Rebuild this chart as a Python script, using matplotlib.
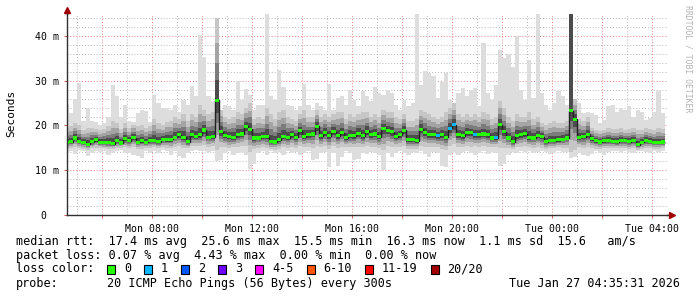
import numpy as np
import pandas as pd
import matplotlib
matplotlib.use('Agg')
import matplotlib.pyplot as plt
import matplotlib.dates as mdates
from matplotlib.patches import Rectangle
from matplotlib.ticker import MultipleLocator, FuncFormatter

# smokeping graph, last 24h, one value per 10 minute bin
START = '2026-01-26 04:30'
VIEW_FROM = '2026-01-26 04:35:31'
VIEW_TO = '2026-01-27 04:35:31'

median = [
    16.2, 16.4, 17.2, 16.5, 16.2, 15.8,
    16.4, 16.8, 16.2, 16.2, 16.2, 15.9,
    16.6, 16.1, 17.0, 16.6, 17.3, 16.2,
    16.6, 16.2, 16.6, 16.6, 16.4, 16.9,
    16.8, 16.9, 17.4, 17.9, 17.4, 16.4,
    17.9, 17.6, 17.9, 19.0, 17.4, 17.5,
    25.6, 18.6, 17.7, 17.5, 17.4, 17.9,
    18.1, 19.8, 19.2, 17.2, 17.2, 17.6,
    17.5, 16.4, 16.3, 16.8, 17.6, 17.3,
    17.9, 17.4, 18.8, 17.5, 17.9, 18.1,
    19.8, 17.7, 18.4, 17.7, 18.6, 17.7,
    18.4, 17.3, 17.7, 17.7, 18.3, 17.7,
    18.7, 17.9, 18.1, 17.5, 19.4, 18.9,
    18.6, 17.5, 17.9, 18.9, 16.8, 16.9,
    16.6, 19.2, 18.4, 17.9, 17.9, 17.7,
    17.9, 17.4, 19.4, 20.2, 17.9, 17.7,
    18.4, 18.4, 17.9, 17.9, 18.1, 17.9,
    17.2, 17.3, 20.2, 18.6, 17.2, 16.4,
    17.7, 17.9, 18.2, 17.4, 17.2, 17.7,
    17.5, 16.4, 16.7, 16.6, 16.8, 16.9,
    17.2, 23.3, 21.4, 17.4, 17.5, 18.0,
    17.0, 16.6, 16.3, 16.6, 16.6, 16.4,
    16.4, 16.6, 16.6, 16.4, 16.6, 15.7,
    16.2, 16.6, 16.4, 16.2, 16.2, 16.3,
]

rtt_min = [
    13.8, 14.2, 13.6, 14.5, 14.2, 13.1,
    13.8, 14.2, 14.0, 14.2, 13.4, 13.8,
    14.2, 14.5, 13.8, 13.8, 13.4, 13.1,
    12.8, 14.2, 13.8, 14.2, 13.8, 14.5,
    14.2, 13.4, 14.2, 13.1, 12.7, 13.8,
    14.2, 14.5, 14.2, 14.2, 14.0, 14.2,
    12.0, 12.4, 13.8, 14.2, 13.4, 13.8,
    14.0, 13.5, 10.2, 11.5, 13.8, 14.2,
    13.4, 14.2, 13.8, 14.0, 13.4, 14.2,
    13.8, 14.0, 13.4, 13.8, 14.2, 12.2,
    12.5, 13.8, 14.0, 10.8, 13.8, 11.0,
    13.0, 14.2, 13.8, 12.3, 12.6, 13.8,
    13.6, 14.0, 13.8, 13.4, 10.1, 13.8,
    13.0, 13.8, 14.2, 13.8, 13.4, 14.0,
    13.8, 14.2, 13.6, 13.0, 14.0, 13.8,
    11.0, 10.8, 13.5, 14.0, 13.4, 14.0,
    14.2, 13.8, 13.4, 13.8, 14.2, 13.6,
    14.0, 13.8, 11.0, 11.4, 13.4, 14.0,
    13.8, 14.2, 14.0, 14.2, 13.8, 14.0,
    14.2, 14.0, 13.6, 13.8, 14.2, 14.0,
    14.0, 12.7, 12.9, 13.8, 13.4, 13.1,
    13.6, 14.2, 13.8, 13.4, 14.0, 14.2,
    14.2, 14.0, 14.2, 14.0, 13.8, 14.2,
    14.2, 14.0, 13.8, 14.2, 14.0, 14.2,
]

rtt_lo = [
    14.8, 15.0, 15.2, 15.0, 14.8, 14.6,
    14.9, 15.0, 15.0, 14.9, 14.7, 14.8,
    15.0, 15.0, 15.1, 15.0, 15.2, 14.8,
    14.8, 15.0, 15.0, 15.1, 14.9, 15.1,
    15.0, 14.9, 15.3, 15.4, 15.0, 14.9,
    15.4, 15.5, 15.4, 15.6, 15.3, 15.4,
    14.5, 15.2, 15.3, 15.0, 15.2, 15.3,
    15.4, 15.5, 14.0, 14.8, 15.0, 15.2,
    15.0, 14.8, 14.6, 14.8, 15.2, 15.0,
    15.3, 15.0, 15.4, 15.2, 15.3, 15.0,
    15.4, 15.2, 15.4, 14.8, 15.4, 15.0,
    15.3, 15.2, 15.3, 15.1, 15.2, 15.2,
    15.4, 15.2, 15.3, 15.0, 14.5, 15.4,
    15.2, 15.2, 15.3, 15.4, 14.8, 14.8,
    14.8, 15.4, 15.3, 15.2, 15.3, 15.2,
    14.8, 14.5, 15.5, 15.8, 15.3, 15.2,
    15.5, 15.3, 15.4, 15.2, 15.4, 15.3,
    15.3, 15.2, 15.0, 15.0, 15.0, 14.8,
    15.2, 15.3, 15.4, 15.2, 15.0, 15.3,
    15.0, 14.8, 15.0, 15.0, 15.1, 15.0,
    15.0, 14.0, 14.5, 15.2, 15.0, 15.2,
    15.0, 14.8, 14.7, 14.9, 15.0, 15.0,
    14.9, 15.0, 15.0, 14.8, 15.0, 14.6,
    14.8, 15.0, 15.0, 14.8, 14.8, 14.9,
]

rtt_hi = [
    19.5, 19.8, 20.5, 20.2, 19.0, 19.5,
    19.5, 19.2, 19.0, 19.3, 19.8, 21.0,
    20.5, 19.2, 20.5, 19.5, 20.2, 19.8,
    20.0, 19.5, 19.8, 21.5, 20.5, 20.0,
    20.8, 21.0, 22.0, 21.5, 22.5, 21.0,
    22.5, 22.0, 24.5, 23.5, 22.5, 23.0,
    44.0, 23.5, 22.0, 21.5, 21.8, 23.0,
    22.5, 24.0, 25.0, 21.5, 22.0, 21.5,
    24.0, 22.5, 21.5, 23.0, 23.5, 22.0,
    21.5, 21.0, 22.5, 23.5, 22.0, 21.8,
    23.5, 22.0, 22.5, 22.0, 22.5, 23.0,
    23.0, 21.5, 22.5, 22.0, 22.5, 23.0,
    23.0, 22.0, 22.5, 22.0, 23.5, 23.0,
    23.0, 22.0, 21.5, 22.5, 21.0, 21.0,
    21.5, 23.5, 23.0, 22.5, 22.0, 21.5,
    22.0, 23.0, 24.0, 25.0, 22.5, 22.0,
    22.5, 22.0, 22.5, 22.0, 23.0, 22.5,
    21.5, 22.0, 25.5, 24.0, 22.0, 21.0,
    22.5, 22.0, 22.0, 23.0, 21.5, 22.0,
    20.5, 20.0, 20.5, 21.0, 20.5, 20.5,
    21.0, 120.0, 26.0, 21.5, 21.0, 22.0,
    19.5, 19.0, 18.8, 19.0, 19.5, 19.3,
    19.3, 19.5, 19.0, 19.3, 19.5, 19.0,
    19.0, 19.5, 19.3, 19.0, 19.5, 19.2,
]

rtt_max = [
    24.8, 22.8, 25.9, 29.6, 21.0, 23.9,
    21.0, 20.8, 20.2, 20.5, 22.0, 29.1,
    26.5, 22.0, 24.5, 21.0, 20.8, 22.8,
    23.5, 23.2, 20.8, 26.9, 25.0, 23.8,
    23.8, 23.5, 24.5, 23.0, 25.8, 24.5,
    28.9, 26.5, 40.3, 35.4, 26.5, 25.5,
    43.4, 22.8, 24.6, 24.3, 23.5, 29.9,
    25.7, 28.1, 26.9, 23.5, 24.6, 24.6,
    44.8, 26.5, 25.7, 32.5, 28.6, 24.6,
    24.3, 23.5, 24.3, 29.3, 24.6, 23.5,
    25.0, 24.3, 23.5, 29.3, 23.5, 26.1,
    26.5, 24.6, 28.0, 25.7, 24.3, 27.6,
    26.5, 25.4, 28.6, 27.2, 26.9, 28.0,
    27.2, 24.6, 23.5, 25.7, 24.3, 25.0,
    44.8, 29.1, 32.2, 31.7, 31.0, 26.1,
    29.7, 31.7, 25.7, 25.0, 27.2, 28.4,
    26.5, 28.0, 28.4, 24.3, 38.4, 27.2,
    25.7, 29.1, 36.8, 35.0, 36.0, 33.0,
    40.0, 28.0, 25.7, 34.7, 26.1, 44.8,
    27.2, 24.6, 23.5, 25.0, 27.6, 26.5,
    24.6, 150.0, 23.5, 25.0, 22.8, 23.1,
    22.8, 22.4, 20.5, 21.3, 24.3, 24.6,
    23.1, 23.9, 23.5, 24.3, 22.0, 23.5,
    23.1, 21.3, 21.6, 23.1, 27.6, 22.8,
]

# bins where 1 of 20 pings got lost
loss_bins = [89, 92, 93, 98, 103]

ytick_values = [0, 10, 20, 30, 40]
ytick_labels = [' 0', '10 m', '20 m', '30 m', '40 m']

loss_names = ['0', '1', '2', '3', '4-5', '6-10', '11-19', '20/20']
loss_colors = ['#26ff00', '#00b8ff', '#0059ff', '#7000ff', '#ff00ff',
               '#ff5500', '#ff0000', '#a00000']

rtt_line = 'median rtt:  17.4 ms avg  25.6 ms max  15.5 ms min  16.3 ms now  1.1 ms sd  15.6   am/s'
loss_line = 'packet loss: 0.07 % avg  4.43 % max  0.00 % min  0.00 % now'
probe_text = '20 ICMP Echo Pings (56 Bytes) every 300s'
stamp = 'Tue Jan 27 04:35:31 2026'

plt.rcParams['font.family'] = 'DejaVu Sans Mono'

W, H = 697, 297
fig = plt.figure(figsize=(W / 100, H / 100), dpi=100)
fig.patch.set_facecolor('white')
ax = fig.add_axes([67 / W, 82 / H, 600 / W, 201.4 / H])


def px(x, y):
    return x / W, 1 - y / H


edges = mdates.date2num(pd.date_range(START, periods=len(median) + 1, freq='10min').to_pydatetime())
med = np.array(median)
lo = np.array(rtt_lo)
hi = np.array(rtt_hi)

# smoke
ax.stairs(rtt_max, edges, baseline=rtt_min, fill=True, color='#dddddd', lw=0, zorder=1)
for f, c in [(1.0, '#c6c6c6'), (0.7, '#a4a4a4'), (0.45, '#7c7c7c'), (0.25, '#4c4c4c')]:
    ax.stairs(med + f * (hi - med), edges, baseline=med - f * (med - lo),
              fill=True, color=c, lw=0, zorder=1)

# median line + loss coloured boxes
ax.stairs(median, edges, baseline=None, color='#202020', lw=1.0, zorder=3)
box_colors = [loss_colors[1] if i in loss_bins else loss_colors[0] for i in range(len(median))]
ax.bar(edges[:-1], 0.7, width=np.diff(edges), bottom=med - 0.35, align='edge',
       color=box_colors, lw=0, zorder=4)

ax.set_xlim(mdates.datestr2num(VIEW_FROM), mdates.datestr2num(VIEW_TO))
ax.set_ylim(0, 45)

ax.xaxis.set_major_locator(mdates.HourLocator(byhour=range(0, 24, 2)))
ax.xaxis.set_minor_locator(mdates.HourLocator())


def hour_label(x, pos):
    d = mdates.num2date(x)
    return d.strftime('%a %H:%M') if d.hour % 4 == 0 else ''


ax.xaxis.set_major_formatter(FuncFormatter(hour_label))
ax.set_yticks(ytick_values, ytick_labels)
ax.yaxis.set_minor_locator(MultipleLocator(2))

# grid sits under the smoke
ax.set_axisbelow(True)
ax.grid(which='minor', color='#b8b8b8', ls=(0, (1, 2)), lw=0.7)
ax.grid(which='major', color='#e88080', ls=(0, (1, 2)), lw=0.7)

ax.tick_params(which='major', length=2, width=0.8, color='#e06060')
ax.tick_params(which='minor', length=0)
ax.tick_params(axis='x', which='major', labelsize=7.1, pad=4.5)
ax.tick_params(axis='y', which='major', labelsize=7.1, pad=20.9)
for lab in ax.get_yticklabels():
    lab.set_ha('left')

for s in ['top', 'right']:
    ax.spines[s].set_visible(False)
for s in ['left', 'bottom']:
    ax.spines[s].set_color('#303030')
    ax.spines[s].set_linewidth(1.0)
    ax.spines[s].set_zorder(5)

# axis arrows
ax.plot([1.0, 1.006], [0, 0], color='#303030', lw=1.0, transform=ax.transAxes, clip_on=False)
ax.plot([1.009], [0], marker='>', ms=4, color='#a00000', transform=ax.transAxes, clip_on=False)
ax.plot([0, 0], [1.0, 1.01], color='#303030', lw=1.0, transform=ax.transAxes, clip_on=False)
ax.plot([0], [1.02], marker='^', ms=4, color='#a00000', transform=ax.transAxes, clip_on=False)

fig.text(*px(11, 113.5), 'Seconds', rotation=90, ha='center', va='center', fontsize=8)
fig.text(*px(688, 5), 'RRDTOOL / TOBI OETIKER', rotation=270, ha='center', va='top',
         fontsize=5.9, color='#b4b4b4')

# legend
fs = 8.5
cw = 7.1
fig.text(*px(16, 241), rtt_line, ha='left', va='center', fontsize=fs)
fig.text(*px(16, 255), loss_line, ha='left', va='center', fontsize=fs)
fig.text(*px(16, 269), 'loss color:', ha='left', va='center', fontsize=fs)
pos = 107
for name, col in zip(loss_names, loss_colors):
    fig.add_artist(Rectangle(px(pos, 273.5), 8 / W, 9 / H, transform=fig.transFigure,
                             facecolor=col, edgecolor='black', lw=0.8))
    fig.text(*px(pos + 17, 269), name, ha='left', va='center', fontsize=fs)
    pos = pos + 30 + cw * len(name)
fig.text(*px(16, 283.3), 'probe:', ha='left', va='center', fontsize=fs)
fig.text(*px(107, 283.3), probe_text, ha='left', va='center', fontsize=fs)
fig.text(*px(680, 283.3), stamp, ha='right', va='center', fontsize=fs)

fig.savefig('out.png', dpi=100)
